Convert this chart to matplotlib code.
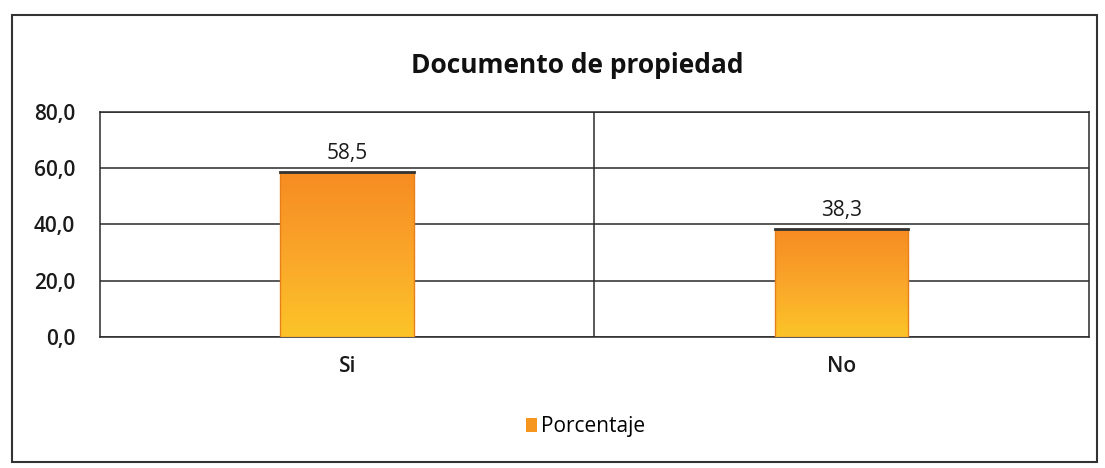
import numpy as np
import matplotlib.pyplot as plt
from matplotlib.patches import Rectangle, Patch
from matplotlib.colors import LinearSegmentedColormap

# datos
categorias = ["Si", "No"]
porcentajes = [58.5, 38.3]
ticks_y = [0, 20, 40, 60, 80]
titulo = "Documento de propiedad"
serie = "Porcentaje"

plt.rcParams['font.family'] = ['Open Sans', 'DejaVu Sans']

fig = plt.figure(figsize=(11.05, 4.68), dpi=100)
ax = fig.add_axes([0.0905, 0.28, 0.895, 0.481])

x = np.arange(len(categorias)) + 0.5
bars = ax.bar(x, porcentajes, width=0.27, color='none', edgecolor='none', zorder=3)

# degradado naranja como en Excel
cmap = LinearSegmentedColormap.from_list("naranja", ["#FCC428", "#FAA62A", "#F68C22"])
grad = np.linspace(0, 1, 100).reshape(-1, 1)
for b in bars:
    x0, y0 = b.get_x(), b.get_y()
    w, h = b.get_width(), b.get_height()
    im = ax.imshow(grad, cmap=cmap, aspect='auto', origin='lower',
                   extent=[x0, x0 + w, y0, y0 + h], zorder=3)
    im.set_clip_path(b)
    ax.add_patch(Rectangle((x0, y0), w, h, fill=False, edgecolor='#E8801A', lw=1.0, zorder=4))
    ax.plot([x0, x0 + w], [y0 + h, y0 + h], color='#333333', lw=2.0, zorder=5)
    ax.text(b.get_x() + w / 2, h + 3, f"{h:.1f}".replace('.', ','),
            ha='center', va='bottom', fontsize=15, color='#1a1a1a', fontweight='medium')

ax.set_xlim(0, len(categorias))
ax.set_ylim(0, 80)
ax.set_yticks(ticks_y)
ax.set_yticklabels([f"{t:.1f}".replace('.', ',') for t in ticks_y], fontsize=15,
                   fontweight='semibold', color='#1a1a1a')
ax.set_xticks(x)
ax.set_xticklabels(categorias, fontsize=15, fontweight='semibold', color='#1a1a1a')
ax.tick_params(axis='y', length=0, pad=18)
ax.tick_params(axis='x', length=0, pad=14)

for t in ticks_y:
    ax.axhline(t, color='#2a2a2a', lw=1.1, zorder=1)
for i in range(1, len(categorias)):
    ax.axvline(i, color='#2a2a2a', lw=1.1, zorder=1)
for s in ax.spines.values():
    s.set_color('#2a2a2a')
    s.set_linewidth(1.1)

fig.text(0.522, 0.86, titulo, ha='center', va='center', fontsize=19, fontweight='bold', color='#111111')

fig.legend(handles=[Patch(facecolor='#F7961F', edgecolor='none', label=serie)],
           loc='center', bbox_to_anchor=(0.53, 0.088), frameon=False, fontsize=15,
           handlelength=0.55, handleheight=0.6, handletextpad=0.2)

# marco exterior
fig.patches.append(Rectangle((0.011, 0.013), 0.982, 0.955, transform=fig.transFigure,
                             fill=False, edgecolor='#333333', lw=1.5))

fig.savefig("out.png", dpi=100)
